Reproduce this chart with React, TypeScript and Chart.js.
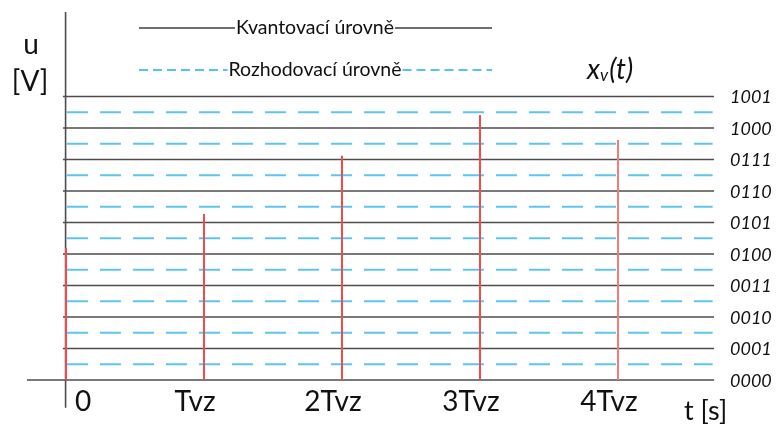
import React, { useEffect, useRef } from "react";
import { Chart, registerables } from "chart.js";

Chart.register(...registerables);

// ---- data ----
const levelCodes = ["0000", "0001", "0010", "0011", "0100", "0101", "0110", "0111", "1000", "1001"];
const quantLevels = [0, 1, 2, 3, 4, 5, 6, 7, 8, 9];
const decisionLevels = [0.5, 1.5, 2.5, 3.5, 4.5, 5.5, 6.5, 7.5, 8.5];
const sampleTimes = [0, 1, 2, 3, 4];
const sampleValues = [4.19, 5.27, 7.12, 8.41, 7.62];
const timeLabels = ["0", "Tvz", "2Tvz", "3Tvz", "4Tvz"];
const legendLabels = ["Kvantovací úrovně", "Rozhodovací úrovně"];

const FONT = "Lato, 'Open Sans', sans-serif";
const GRAY = "#4d4d4d";
const BLUE = "#5cc6f2";
const RED = "#f24b4b";

export default function App() {
  const ref = useRef<HTMLCanvasElement | null>(null);

  useEffect(() => {
    if (!ref.current) return;
    const lineStart = -0.022;
    const lineEnd = 4.696;

    const datasets: any[] = [];
    sampleTimes.forEach((t, i) => {
      datasets.push({
        data: [{ x: t, y: 0 }, { x: t, y: sampleValues[i] }],
        borderColor: i === 4 ? "#f57a7a" : RED,
        borderWidth: 2,
        pointRadius: 0,
        showLine: true,
        order: 0,
      });
    });
    quantLevels.forEach((v) => {
      datasets.push({
        data: [{ x: v === 0 ? -0.283 : lineStart, y: v }, { x: lineEnd, y: v }],
        borderColor: GRAY,
        borderWidth: 1.6,
        pointRadius: 0,
        showLine: true,
        order: 1,
      });
    });
    decisionLevels.forEach((v) => {
      datasets.push({
        data: [{ x: 0.007, y: v }, { x: lineEnd - 0.01, y: v }],
        borderColor: BLUE,
        borderWidth: 2,
        borderDash: [21, 12],
        pointRadius: 0,
        showLine: true,
        order: 2,
      });
    });
    // vertical axis
    datasets.push({
      data: [{ x: -0.003, y: -0.88 }, { x: -0.003, y: 11.68 }],
      borderColor: GRAY,
      borderWidth: 1.6,
      pointRadius: 0,
      showLine: true,
      order: 1,
    });

    const textPlugin = {
      id: "texts",
      afterDraw(chart: any) {
        const ctx = chart.ctx as CanvasRenderingContext2D;
        const xs = chart.scales.x;
        const ys = chart.scales.y;
        ctx.save();
        ctx.fillStyle = "#111";
        ctx.textBaseline = "middle";

        // right level codes
        ctx.font = `italic 18px ${FONT}`;
        ctx.textAlign = "left";
        quantLevels.forEach((v, i) => {
          ctx.fillText(levelCodes[i], 730, ys.getPixelForValue(v) + 1);
        });

        // time tick labels
        ctx.font = `28px ${FONT}`;
        sampleTimes.forEach((t, i) => {
          const px = xs.getPixelForValue(t);
          if (i === 0) {
            ctx.textAlign = "left";
            ctx.fillText(timeLabels[i], px + 9, 402);
          } else {
            ctx.textAlign = "center";
            ctx.fillText(timeLabels[i], px - 9, 402);
          }
        });

        // axis titles
        ctx.textAlign = "left";
        ctx.font = `27px ${FONT}`;
        ctx.fillText("t [s]", 684, 411);
        ctx.font = `28px ${FONT}`;
        ctx.textAlign = "center";
        ctx.fillText("u", 31, 45);
        ctx.fillText("[V]", 30, 82);

        // x_v(t)
        ctx.textAlign = "left";
        ctx.font = `italic 28px ${FONT}`;
        ctx.fillText("x", 587, 70);
        const w1 = ctx.measureText("x").width;
        ctx.font = `italic 17px ${FONT}`;
        ctx.fillText("v", 587 + w1, 76);
        const w2 = ctx.measureText("v").width;
        ctx.font = `italic 28px ${FONT}`;
        ctx.fillText("(t)", 587 + w1 + w2 + 1, 70);

        // legend
        ctx.font = `19.5px ${FONT}`;
        ctx.textAlign = "left";
        const rows = [
          { y: 28, dash: [] as number[], color: "#6e6e6e", text: legendLabels[0] },
          { y: 70, dash: [9, 5], color: "#1ab2ef", text: legendLabels[1] },
        ];
        rows.forEach((r) => {
          const tw = ctx.measureText(r.text).width;
          const center = 315;
          const tx = center - tw / 2;
          ctx.strokeStyle = r.color;
          ctx.lineWidth = r.dash.length ? 1.6 : 2;
          ctx.setLineDash(r.dash);
          ctx.beginPath();
          ctx.moveTo(139, r.y);
          ctx.lineTo(tx - 1, r.y);
          ctx.moveTo(tx + tw + 1, r.y);
          ctx.lineTo(492, r.y);
          ctx.stroke();
          ctx.setLineDash([]);
          ctx.fillText(r.text, tx, r.y);
        });
        ctx.restore();
      },
    };

    const chart = new Chart(ref.current, {
      type: "scatter",
      data: { datasets },
      options: {
        animation: false,
        responsive: false,
        layout: { padding: 0 },
        plugins: { legend: { display: false }, tooltip: { enabled: false } },
        scales: {
          x: { type: "linear", display: false, min: -66 / 138, max: 710 / 138 },
          y: { type: "linear", display: false, min: -51 / 31.5, max: 380 / 31.5 },
        },
      },
      plugins: [textPlugin],
    });
    return () => chart.destroy();
  }, []);

  return (
    <div style={{ position: "fixed", left: 0, top: 0, width: 776, height: 431, background: "#fff" }}>
      <canvas ref={ref} width={776} height={431} style={{ width: 776, height: 431 }} />
    </div>
  );
}
